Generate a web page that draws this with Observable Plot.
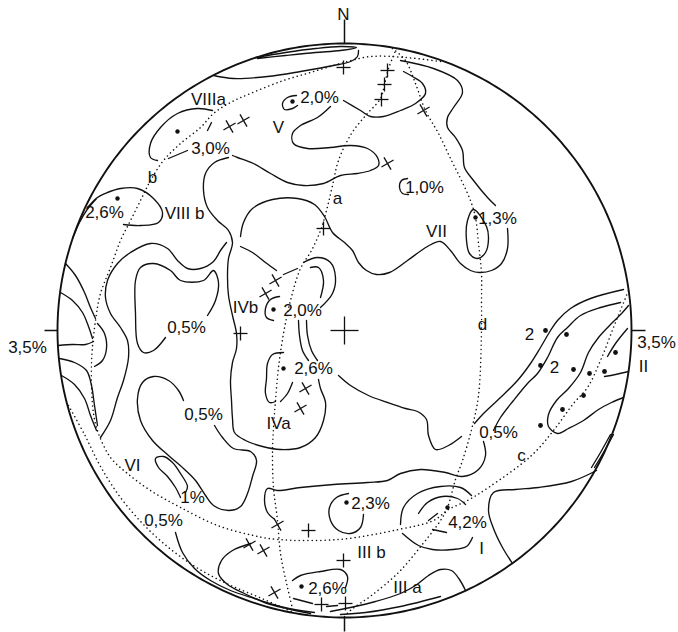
<!DOCTYPE html>
<html>
<head>
<meta charset="utf-8">
<script src="https://cdn.jsdelivr.net/npm/d3@7"></script>
<script src="https://cdn.jsdelivr.net/npm/@observablehq/plot@0.6"></script>
<style>
  body { margin: 0; background: #fff; }
  svg { display: block; }
</style>
</head>
<body>
<div id="chart"></div>
<script>
// Schmidt net: east (u) / north (v) coordinates, primitive radius R
const R = 287;

// ---- contour lines (hand-drawn isolines) ----
const lensTop = [[-89,273],[-59,278],[-29,282],[-4,284],[12,283],[-4,280],[-29,278],[-59,275],[-87,272]];
const rimTopLeft = [[-131,255],[-111,252],[-77,254],[-44,259],[-11,265],[6,269],[13,274],[14,280]];
const loopCrossesN = [[59,259],[68,254],[78,247],[81,237],[71,227],[56,220],[39,214],[26,214],[16,220],[-1,230]];
const contourVIIEast = [[56,270],[89,262],[113,250],[118,238],[109,223],[103,213],[103,203],[111,193],[118,180],[120,163],[129,150],[143,133],[151,125]];
const ringV = [[-48,235],[-57,233],[-62,227],[-60,221],[-52,222],[-47,225]];
const contourV = [[-14,224],[-27,213],[-44,205],[-52,197],[-51,187],[-37,182],[-14,183],[6,185],[23,182],[33,173],[34,165],[26,160],[13,157],[-4,155],[-21,147],[-41,145],[-57,148],[-74,157],[-91,167],[-107,173],[-112,175]];
const contourVIIIa = [[-132,220],[-147,222],[-167,217],[-184,203],[-194,187],[-194,173],[-187,170]];
const dashVIIIa = [[-176,172],[-157,180]];
const slashVIIIa = [[-137,200],[-133,208]];
const loopVIIIb = [[-257,123],[-247,133],[-237,138],[-224,142],[-207,142],[-191,132],[-182,118],[-186,108],[-204,105],[-221,106]];
const lineVIIIb = [[-248,132],[-258,120],[-265,108],[-272,92]];
const contourIVWest = [[-116,173],[-130,168],[-139,157],[-141,140],[-137,123],[-127,110],[-116,100],[-112,88],[-116,72],[-117,55],[-116,35],[-112,15],[-108,-3],[-108,-18],[-112,-32],[-114,-50],[-113,-70],[-112,-88],[-110,-102],[-99,-110],[-82,-116],[-64,-119],[-44,-117],[-29,-107],[-21,-90],[-19,-72],[-24,-58],[-26,-49]];
const contourVII = [[-104,94],[-101,108],[-92,122],[-72,131],[-47,132],[-30,126],[-20,114],[-12,98],[0,88],[8,80],[14,68],[22,60],[32,56],[45,58],[63,70],[83,84],[96,89],[106,80],[116,67],[126,60],[135,58],[147,60],[157,67],[163,82],[163,102]];
const contourWest = [[-118,88],[-124,80],[-131,69],[-144,62],[-157,62],[-167,70],[-177,82],[-194,87],[-214,78],[-227,67],[-237,50],[-239,33],[-234,17],[-224,3],[-217,-10],[-216,-27],[-221,-50],[-227,-67],[-234,-90],[-244,-107]];
const loopHalfWest = [[-179,-7],[-191,-20],[-201,-22],[-207,-13],[-209,17],[-209,50],[-204,63],[-191,67],[-174,60],[-164,50],[-141,50],[-131,60],[-126,48],[-129,30],[-137,15]];
const ringIVb = [[-65,34],[-74,31],[-79,22],[-78,13],[-71,10]];
const lineIVbTop = [[-104,84],[-92,78],[-79,68],[-68,60]];
const dashIVb = [[-61,56],[-47,62]];
const hookOuter = [[-41,68],[-27,73],[-14,68],[-9,53],[-12,37],[-24,23]];
const hookInner = [[-34,63],[-26,63],[-21,50],[-24,33]];
const pairInner = [[-46,10],[-45,-5],[-42,-20],[-36,-30]];
const pairOuter = [[-38,10],[-37,-5],[-33,-20],[-27,-30]];
const loopIVa = [[-61,-22],[-72,-24],[-77,-33],[-78,-48],[-79,-63],[-75,-72],[-69,-71]];
const arcIVa = [[-52,-52],[-57,-63],[-64,-71]];
const contourIVaEast = [[-6,-45],[6,-55],[24,-65],[43,-72],[61,-78],[73,-81],[82,-89],[84,-105],[91,-119],[104,-115],[117,-106]];
const contourIIIbNorth = [[139,-111],[141,-125],[134,-139],[118,-146],[101,-142],[76,-139],[56,-143],[43,-150],[23,-152],[-11,-154],[-44,-157],[-67,-160],[-77,-158],[-80,-170],[-77,-182],[-71,-188]];
const loopIIIb = [[4,-163],[-8,-167],[-15,-177],[-14,-190],[-6,-200],[6,-203],[16,-197],[19,-184]];
const ringITop = [[56,-194],[59,-177],[73,-163],[96,-156],[116,-157],[127,-165]];
const ringIBottom = [[58,-203],[74,-215],[88,-219],[108,-219],[122,-216],[128,-207]];
const ringIInner = [[74,-183],[83,-172],[98,-166],[113,-168],[121,-174]];
const dashIa = [[84,-190],[93,-183]];
const dashIb = [[88,-199],[102,-202]];
const contourI = [[252,-140],[227,-151],[194,-157],[171,-159],[149,-162],[144,-180],[149,-198],[158,-217],[168,-233]];
const rimEast1 = [[266,-104],[256,-122],[247,-137]];
const rimEast2 = [[269,-104],[259,-122],[250,-137]];
const contourIIIa = [[121,-260],[115,-249],[107,-240],[96,-239],[84,-245],[71,-255],[56,-263],[31,-271],[6,-277],[-14,-281]];
const rimSouth = [[96,-266],[56,-276],[21,-282],[-4,-284]];
const loopSouth = [[-52,-250],[-44,-245],[-24,-241],[-4,-239],[3,-246],[1,-257]];
const dashSouth1 = [[-51,-268],[-32,-273]];
const dashSouth2 = [[-18,-276],[-7,-275]];
const contourSouthWest = [[-94,-213],[-112,-220],[-123,-230],[-126,-243],[-117,-254],[-100,-263],[-80,-272],[-58,-278],[-34,-283]];
const contourSouth = [[-169,-202],[-162,-222],[-150,-238],[-134,-250],[-114,-260],[-90,-268],[-60,-277],[-30,-282]];
const edgeWest1 = [[-279,67],[-269,55],[-260,38],[-254,23],[-249,12]];
const edgeWest2 = [[-284,38],[-272,30],[-262,18],[-256,4],[-252,-8]];
const edgeWest3 = [[-286,-15],[-272,-14],[-259,-14],[-251,-11]];
const edgeWest4 = [[-285,-28],[-270,-32],[-258,-40],[-253,-55],[-250,-75],[-247,-95]];
const edgeWest5 = [[-283,-45],[-270,-54],[-260,-68],[-254,-85],[-248,-100]];
const bumpWest = [[-247,7],[-240,-3],[-238,-18],[-242,-30],[-250,-36]];
const contourVI = [[-161,-70],[-166,-60],[-176,-50],[-191,-46],[-202,-52],[-207,-68],[-204,-90],[-192,-110],[-176,-125],[-161,-138],[-149,-150],[-139,-165],[-131,-175],[-116,-180],[-104,-176],[-97,-163],[-92,-146],[-88,-130],[-94,-121],[-111,-118],[-122,-107],[-130,-95]];
const loopOnePct = [[-164,-167],[-169,-157],[-177,-146],[-186,-137],[-189,-128],[-181,-126],[-172,-132],[-164,-143],[-157,-156],[-159,-162]];
const ringOneNE = [[63,152],[57,150],[55,143],[58,137],[64,136]];
const bandII1 = [[279,41],[246,32],[226,22],[213,10],[206,0],[196,-17],[186,-33],[173,-50],[156,-67],[139,-83],[130,-93]];
const bandII2 = [[276,28],[256,23],[236,15],[223,3],[213,-7],[203,-27],[193,-43],[183,-53],[169,-70],[156,-87],[149,-100]];
const bandII3 = [[284,25],[278,18],[268,8],[254,-7],[244,-22],[236,-42],[224,-58],[212,-70],[204,-84],[204,-96],[213,-103],[224,-98],[239,-90],[254,-79],[267,-72],[279,-67]];
const bandII4 = [[260,-46],[271,-44],[284,-41]];
const bandII5 = [[263,-26],[271,-13],[283,2]];

// closed isoline
const loop13 = [[129,121],[123,110],[122,90],[125,77],[133,72],[141,78],[144,92],[142,104]];

// ---- dotted great / small circles ----
const circleA = [[52,282],[44,262],[40,246],[36,232],[22,216],[7,197],[-6,170],[-12,145],[-18,120],[-24,100],[-33,80],[-44,62],[-54,30],[-61,-3],[-66,-37],[-69,-70],[-71,-97],[-72,-123],[-71,-157],[-67,-190],[-64,-223],[-57,-257],[-51,-282]];
const circleBC = [[96,269],[61,273],[26,274],[-4,267],[-34,258],[-61,250],[-94,237],[-114,228],[-131,217],[-144,203],[-164,187],[-181,170],[-194,150],[-204,130],[-214,110],[-224,90],[-234,63],[-244,37],[-249,10],[-253,-33],[-251,-83],[-246,-103],[-234,-127],[-217,-143],[-194,-160],[-164,-177],[-127,-195],[-91,-205],[-67,-209],[-6,-209],[54,-199],[89,-190],[104,-179],[123,-170],[144,-157],[187,-125],[209,-100],[229,-73],[243,-57],[256,-30],[269,3],[284,40]];
const circleD = [[48,282],[61,270],[71,247],[81,220],[94,197],[107,170],[117,150],[126,130],[131,113],[134,87],[137,57],[137,30],[137,1],[134,-65],[127,-99],[118,-130],[111,-149],[103,-177],[96,-190],[77,-215],[54,-242],[27,-265],[7,-279],[0,-286]];
const circleSW = [[-276,-75],[-260,-104],[-244,-136],[-224,-167],[-201,-194],[-176,-217],[-148,-237],[-118,-253],[-85,-267],[-51,-282]];

// ---- point symbols ----
const maxima = [[-52,229],[-167,199],[-227,132],[131,113],[-71,21],[-61,-38],[2,-172],[103,-177],[-43,-256]];
const bandDots = [[201,0],[222,-4],[196,-35],[229,-39],[245,-43],[260,-41],[271,-22],[239,-65],[218,-79],[196,-95]];
const crossesUpright = [[-1,263],[43,260],[40,246],[37,231],[-21,102],[-104,-3],[-36,-200],[-1,-230],[-23,-274],[1,-273]];
const crossesTilted = [[79,220],[43,167],[-115,204],[-101,210],[-69,50],[-79,37],[-39,-58],[-44,-78],[-67,-194],[-95,-214],[-81,-220],[-70,-262]];

// ---- labels ----
const labelText = ["N","3,5%","3,5%","II","VIIIa","2,0%","V","3,0%","b","a","1,0%","VIII b","2,6%","VII","1,3%","IVb","2,0%","2,6%","IVa","0,5%","0,5%","VI","1%","0,5%","d","2","2","0,5%","c","2,3%","4,2%","I","III b","III a","2,6%"];
const labelU =    [-1,-317, 312, 299,-136, -25,-66,-134,-192, -7, 80,-160,-240, 92,153,-99,-42,-31,-66,-158,-141,-212,-152,-181,138,185,210,154,177, 26,123,137, 27, 63,-17];
const labelV =    [316, -17, -12, -36, 231, 233,203, 182, 153,132,143, 117, 118, 99,112, 23, 20,-38,-93,   3, -84,-135,-167,-190,  6, -4,-37,-102,-125,-173,-192,-218,-222,-257,-258];

// ---- build tables ----
const openLines = {lensTop, rimTopLeft, loopCrossesN, contourVIIEast, ringV, contourV, contourVIIIa, dashVIIIa, slashVIIIa,
  loopVIIIb, lineVIIIb, contourIVWest, contourVII, contourWest, loopHalfWest, ringIVb, lineIVbTop, dashIVb, hookOuter, hookInner,
  pairInner, pairOuter, loopIVa, arcIVa, contourIVaEast, contourIIIbNorth, loopIIIb, ringITop, ringIBottom, ringIInner, dashIa, dashIb,
  contourI, rimEast1, rimEast2, contourIIIa, rimSouth, loopSouth, dashSouth1, dashSouth2, contourSouthWest, contourSouth,
  edgeWest1, edgeWest2, edgeWest3, edgeWest4, edgeWest5, bumpWest, contourVI, loopOnePct, ringOneNE,
  bandII1, bandII2, bandII3, bandII4, bandII5};
const toRows = (obj) => Object.entries(obj).flatMap(([id, pts]) => pts.map(([u, v]) => ({id, u, v})));
const isolines = toRows(openLines);
const closedRows = toRows({loop13});
const dottedRows = toRows({circleA, circleBC, circleD, circleSW});

const primitive = d3.range(0, 361, 1).map(a => ({u: R * Math.sin(a * Math.PI / 180), v: R * Math.cos(a * Math.PI / 180)}));

function crossSegments(pts, half, tilt) {
  return pts.flatMap(([u, v]) => [0, 90].map(a => {
    const t = (a + tilt) * Math.PI / 180;
    return {x1: u - half * Math.cos(t), y1: v - half * Math.sin(t), x2: u + half * Math.cos(t), y2: v + half * Math.sin(t)};
  }));
}
const crossSegs = [
  ...crossSegments(crossesUpright, 7, 0),
  ...crossSegments(crossesTilted, 7, 30),
  ...crossSegments([[0, 0]], 14, 0)
];

// tick marks on the primitive: N, S, W, E
const ticks = [
  {x1: 0, y1: R, x2: 0, y2: R + 24},
  {x1: 0, y1: -R, x2: 0, y2: -R - 14},
  {x1: -R, y1: 0, x2: -R - 13, y2: 0},
  {x1: R, y1: 0, x2: R + 14, y2: 0}
];

const labels = labelText.map((t, i) => ({t, u: labelU[i], v: labelV[i]}));
const font = "Liberation Sans, Arial, sans-serif";

const chart = Plot.plot({
  width: 678,
  height: 632,
  margin: 0,
  x: {domain: [-344, 334], axis: null},
  y: {domain: [-302, 330], axis: null},
  style: {background: "#fff"},
  marks: [
    Plot.line(dottedRows, {x: "u", y: "v", z: "id", curve: "catmull-rom", stroke: "#111", strokeWidth: 1.5,
      strokeDasharray: "0.1 4.2", strokeLinecap: "round"}),
    Plot.line(isolines, {x: "u", y: "v", z: "id", curve: "catmull-rom", stroke: "#111", strokeWidth: 1.35}),
    Plot.line(closedRows, {x: "u", y: "v", z: "id", curve: "catmull-rom-closed", stroke: "#111", strokeWidth: 1.35}),
    Plot.line(primitive, {x: "u", y: "v", stroke: "#111", strokeWidth: 1.9}),
    Plot.link(ticks, {x1: "x1", y1: "y1", x2: "x2", y2: "y2", stroke: "#111", strokeWidth: 1.5}),
    Plot.link(crossSegs, {x1: "x1", y1: "y1", x2: "x2", y2: "y2", stroke: "#111", strokeWidth: 1.3}),
    Plot.dot(maxima, {x: d => d[0], y: d => d[1], r: 2.2, fill: "#111", stroke: null}),
    Plot.dot(bandDots, {x: d => d[0], y: d => d[1], r: 2.4, fill: "#111", stroke: null}),
    Plot.text(labels, {x: "u", y: "v", text: "t", fontSize: 17, fontFamily: font, fill: "#111",
      textAnchor: "middle", lineAnchor: "middle"})
  ]
});
document.getElementById("chart").appendChild(chart);
</script>
</body>
</html>
